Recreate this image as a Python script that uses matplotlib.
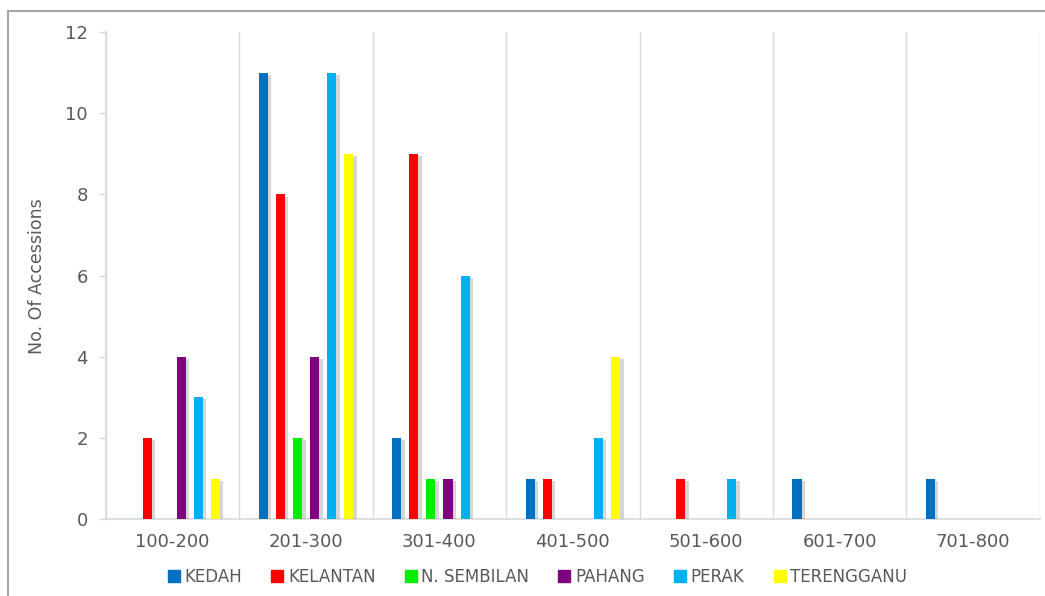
import numpy as np
import matplotlib
matplotlib.use('Agg')
import matplotlib.pyplot as plt
import matplotlib.patheffects as pe
from matplotlib.lines import Line2D

# accession counts per altitude range (m)
ranges = ['100-200', '201-300', '301-400', '401-500', '501-600', '601-700', '701-800']
states = ['KEDAH', 'KELANTAN', 'N. SEMBILAN', 'PAHANG', 'PERAK', 'TERENGGANU']
kedah = [0, 11, 2, 1, 0, 1, 1]
kelantan = [2, 8, 9, 1, 1, 0, 0]
n_sembilan = [0, 2, 1, 0, 0, 0, 0]
pahang = [4, 4, 1, 0, 0, 0, 0]
perak = [3, 11, 6, 2, 1, 0, 0]
terengganu = [1, 9, 0, 4, 0, 0, 0]
colors = ['#0070C0', '#FF0000', '#00EE00', '#7F007F', '#00B0F0', '#FFFF00']

series = [kedah, kelantan, n_sembilan, pahang, perak, terengganu]
text_color = '#595959'
grid_color = '#D9D9D9'

plt.rcParams['font.family'] = ['DejaVu Sans']

fig = plt.figure(figsize=(10.45, 5.96), dpi=100)
ax = fig.add_axes([0.1014, 0.129, 0.8936, 0.817])

x = np.arange(len(ranges))
pitch = 0.128
width = 0.068
shadow = [pe.SimplePatchShadow(offset=(2.5, -1.5), shadow_rgbFace='#8c8c8c', alpha=0.35),
          pe.Normal()]
for i, (vals, col) in enumerate(zip(series, colors)):
    offs = (i - 2.5) * pitch
    vals = np.array(vals)
    keep = vals > 0
    bars = ax.bar(x[keep] + offs, vals[keep], width=width, color=col, zorder=3)
    for b in bars:
        b.set_path_effects(shadow)

ax.set_xlim(-0.5, len(ranges) - 0.5)
ax.set_ylim(0, 12)
ax.set_yticks(np.arange(0, 13, 2))
ax.set_xticks(x)
ax.set_xticklabels(ranges)
ax.set_xticks(np.arange(-0.5, len(ranges), 1), minor=True)
ax.grid(True, which='minor', axis='x', color=grid_color, lw=1.0, zorder=0)
ax.tick_params(axis='x', which='both', length=0, pad=10, labelsize=13, labelcolor=text_color)
ax.tick_params(axis='y', length=5, width=1, color=grid_color, pad=8, labelsize=13,
               labelcolor=text_color)
for s in ['top', 'right']:
    ax.spines[s].set_visible(False)
for s in ['left', 'bottom']:
    ax.spines[s].set_color(grid_color)
    ax.spines[s].set_linewidth(1.2)
ax.set_ylabel('No. Of Accessions', fontsize=12.5, color=text_color, labelpad=14)

handles = [Line2D([], [], marker='s', ls='', markersize=8, markerfacecolor=c,
                  markeredgecolor=c) for c in colors]
fig.legend(handles, states, loc='center', bbox_to_anchor=(0.514, 0.032), ncol=6,
           frameon=False, fontsize=12, labelcolor=text_color, handletextpad=0.25,
           columnspacing=1.7, handlelength=0.8)

# outer border of the chart area
fig.add_artist(Line2D([0.0077, 1.0], [1 - 11 / 596, 1 - 11 / 596], transform=fig.transFigure,
                      color='#A6A6A6', lw=1.5))
fig.add_artist(Line2D([0.0077, 0.0077], [0.0, 1 - 11 / 596], transform=fig.transFigure,
                      color='#A6A6A6', lw=1.5))

fig.savefig('out.png', dpi=100)
